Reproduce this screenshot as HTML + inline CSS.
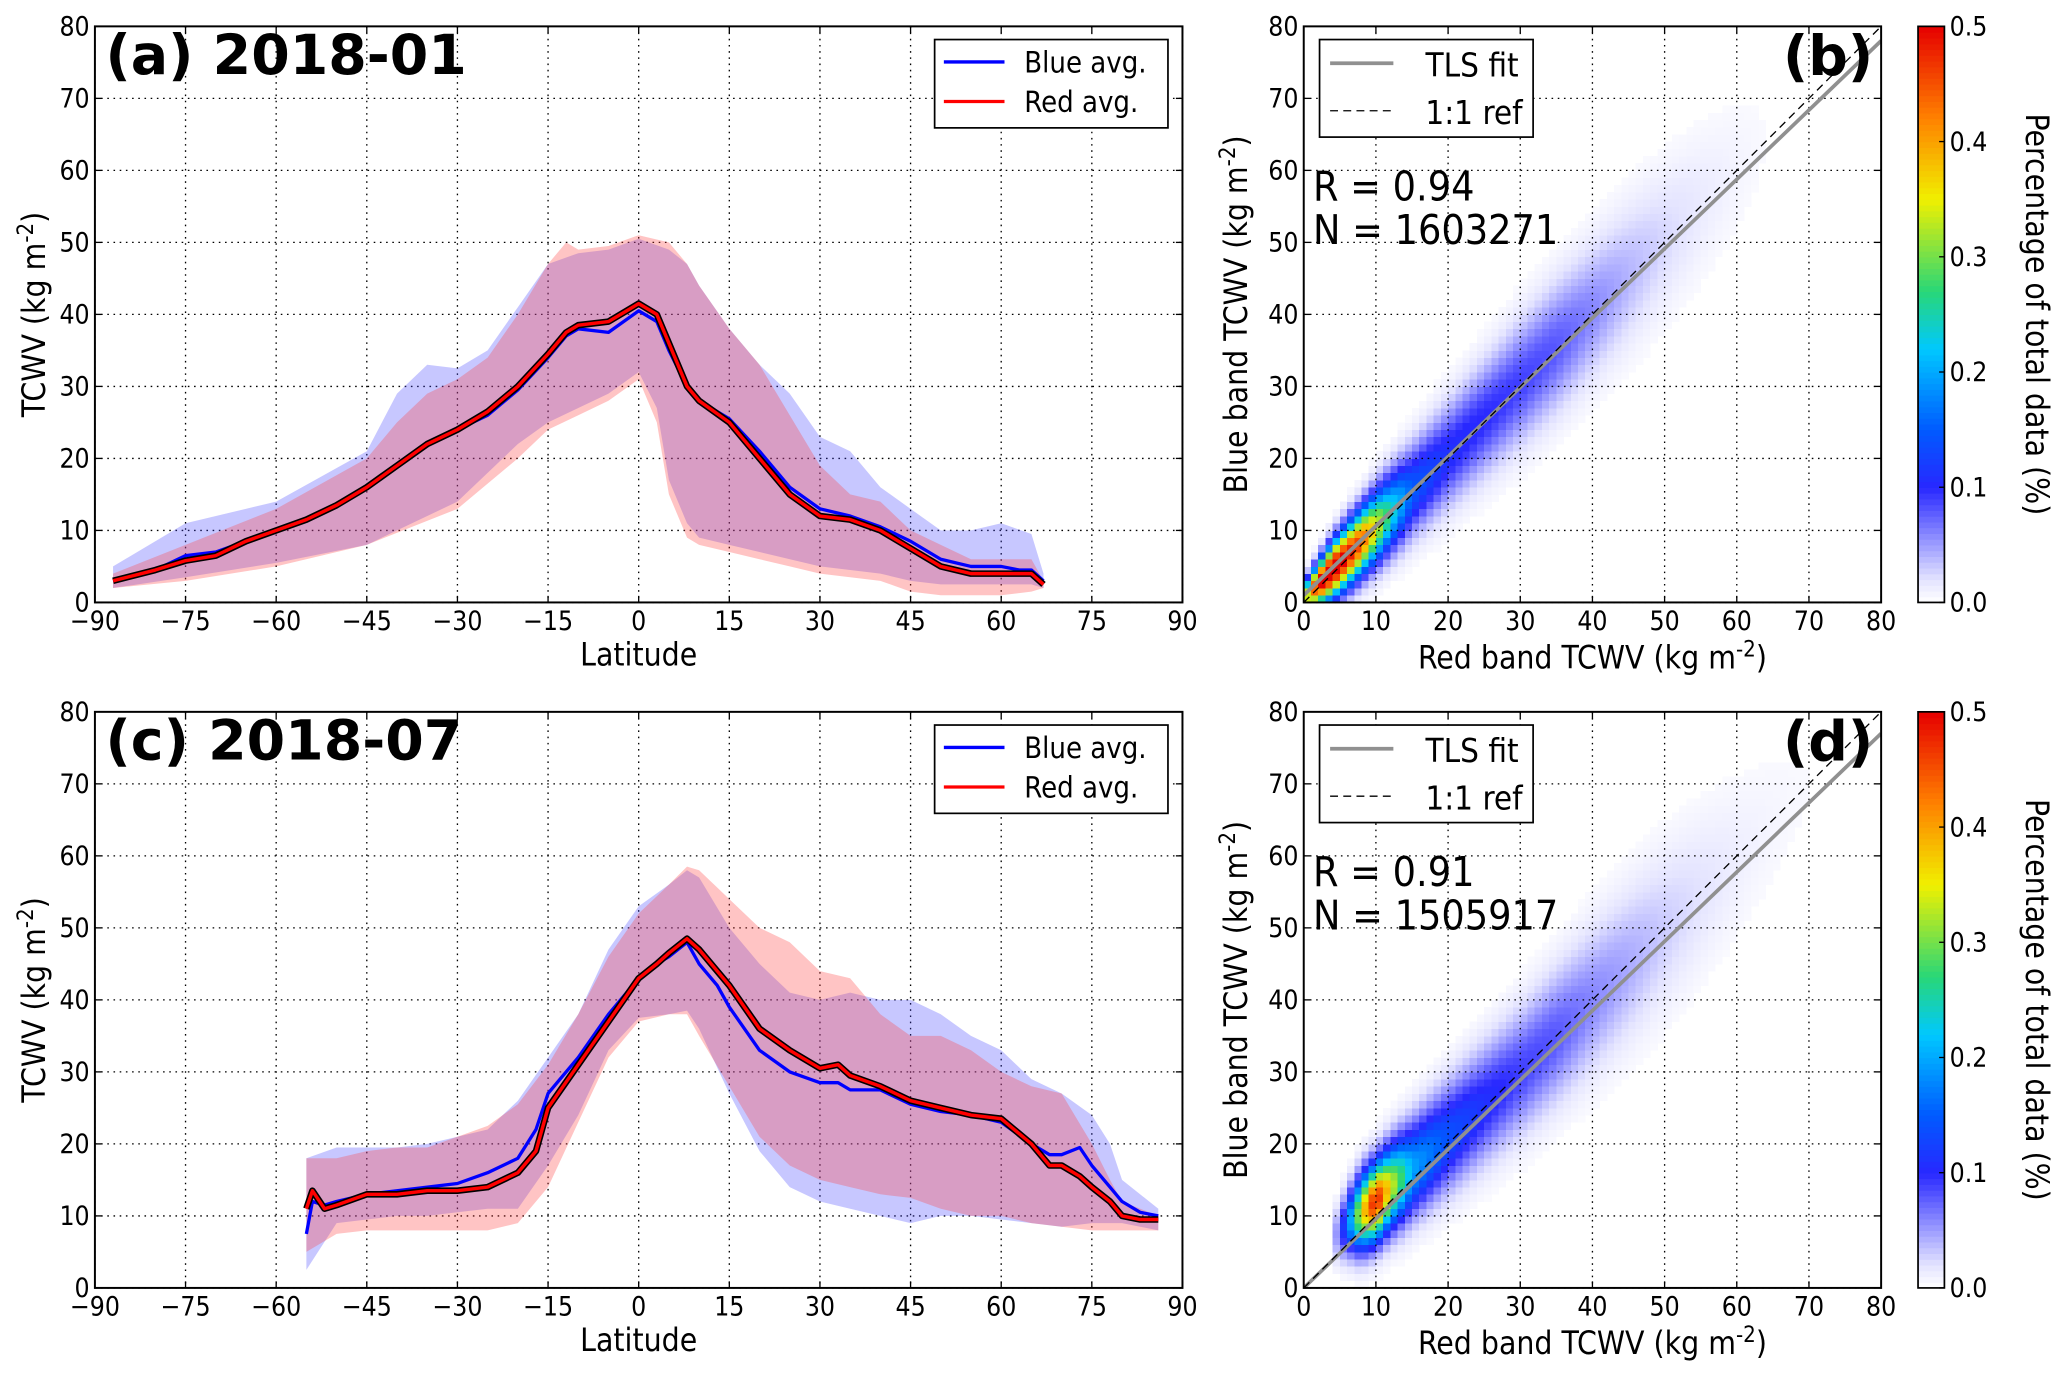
<!DOCTYPE html>
<html><head><meta charset="utf-8">
<style>
html,body{margin:0;padding:0;background:#fff;}
svg{display:block;font-family:"DejaVu Sans","Liberation Sans",sans-serif;font-stretch:condensed;}
</style></head>
<body>
<svg id="fig" width="2067" height="1379" viewBox="0 0 2067 1379" xmlns="http://www.w3.org/2000/svg">
<g id="root" transform="scale(1.31824)"></g>
</svg>
<script>
// ---------- Panel (a) 2018-01 data ----------
const aLat      = [-87,-80,-75,-70,-65,-60,-55,-50,-45,-40,-35,-30,-25,-20,-15,-12,-10,-5,0,3,5,8,10,15,20,25,30,35,40,45,50,55,60,63,65,67];
const aRedAvg   = [3,4.5,5.8,6.5,8.5,10,11.5,13.5,16,19,22,24,26.5,30,34.5,37.5,38.5,39,41.5,40,36,30,28,25,20,15,12,11.5,10,7.5,5,4,4,4,4,2.5];
const aBlueAvg  = [3,4.5,6.5,7,8.5,10,11.5,13.5,16,19,22,24,26,29.5,34,37,38,37.5,40.5,39,35,30,28,25.5,21,16,13,12,10.5,8.5,6,5,5,4.5,4.5,3];
const aRedLat   = [-87,-75,-60,-45,-40,-35,-30,-25,-20,-15,-12,-10,-5,0,5,8,10,15,20,25,30,35,40,45,50,55,60,65,67];
const aRedUp    = [4,8,13,20,25,29,31,34,40,47,50,49,49.5,51,50,47,44,38,33,26,19,15,14,10,8,6,6,6,3];
const aRedLoLat = [-87,-75,-60,-45,-30,-20,-15,-10,-5,0,3,5,8,10,15,20,25,30,40,45,50,60,65,67];
const aRedLo    = [2,3,5,8,13,20,24,26,28,31,25,15,9,8,7,6,5,4,3,1.5,1,1,1.5,2];
const aBlueLat  = [-87,-75,-60,-45,-40,-35,-30,-25,-20,-15,-10,-5,0,5,8,10,15,20,25,30,35,40,45,50,55,60,65,67];
const aBlueUp   = [5,11,14,21,29,33,32.5,35,41,47,48.5,49,50.5,49,47,44,38,33,29,23,21,16,13,10,10,11,9.5,4];
const aBlueLoLat= [-87,-75,-60,-45,-30,-20,-15,-10,-5,0,3,5,8,10,15,20,30,40,45,50,60,65,67];
const aBlueLo   = [2,3.5,5.5,8,14,22,25,27,29,32,27,17,11,9,8,7,5,4,3,2.5,2.5,2.5,2];
// ---------- Panel (c) 2018-07 data ----------
const cLat      = [-55,-54,-52,-50,-45,-40,-35,-30,-25,-20,-17,-15,-10,-5,0,3,5,8,10,13,15,20,25,30,33,35,40,45,50,55,60,65,68,70,73,75,78,80,83,86];
const cRedAvg   = [11,13.5,11,11.5,13,13,13.5,13.5,14,16,19,25,31,37,43,45,46.5,48.5,47,44,42,36,33,30.5,31,29.5,28,26,25,24,23.5,20,17,17,15.5,14,12,10,9.5,9.5];
const cBlueAvg  = [7.5,12,11.5,12,13,13.5,14,14.5,16,18,22,27,32,38,43,45,46,48,45,42,39,33,30,28.5,28.5,27.5,27.5,25.5,24.5,24,23,20,18.5,18.5,19.5,17,14,12,10.5,10];
const cBandLat  = [-55,-50,-45,-40,-35,-30,-25,-20,-15,-10,-5,0,5,8,10,15,20,25,30,35,40,45,50,55,60,65,70,75,78,80,86];
const cRedUp    = [18,18,19,19.5,19.5,21,22.5,25.5,31,38,46,52,56,58.5,58,54,50,48,44,43,38,35,35,33,30,28,27,20,15,12,10];
const cRedLo    = [5,7.5,8,8,8,8,8,9,14,23,32,37,38,38,35,28,21,17,15,14,13,12.5,11,10,10,9,8.5,8,8,8,8];
const cBlueUp   = [18,19.5,19.5,19.5,20,21,22,26,32,38,47,53,56,58,57,50,45,41,40,41,40,40,38,35,33,29,27,24,20,15,11];
const cBlueLo   = [2.5,9,9.5,10,10,10.5,11,11,17,24,33,37.5,38,38.5,36,27,19,14,12,11,10,9,10,10,9.5,9,8.5,9,9,9,8];
// ---------- Panel (b) density (per red-band bin) ----------
const bX      = [0,2,4,6,8,10,12,15,20,25,30,35,40,45,50,55,60,65,70];
const bPeak   = [0.3,0.5,0.55,0.5,0.45,0.35,0.25,0.15,0.11,0.1,0.09,0.08,0.06,0.04,0.025,0.015,0.008,0.003,0];
const bWidth  = [1.5,2,2.5,2.8,3,3.3,3.6,4,4.6,5,5.5,5.8,6,6.5,6.8,7,7,7,7];
const bOffset = [0.5,0.5,0.5,0.5,0.5,0.5,0.5,0.5,0.5,0.5,0.5,0.5,0.5,0.5,0.5,0.5,0.5,0.5,0.5];
const bFit    = [1, 78];
const bStats  = ["R = 0.94","N = 1603271"];
// ---------- Panel (d) density ----------
const dX      = [4,6,8,10,12,15,20,25,30,35,40,45,50,55,60,65,70,75];
const dPeak   = [0.02,0.15,0.35,0.5,0.35,0.2,0.14,0.11,0.09,0.08,0.06,0.045,0.03,0.02,0.012,0.007,0.004,0];
const dWidth  = [2.5,3,3.5,3.5,3.8,4.3,4.8,5.2,5.6,6,6.5,7,7.5,7.5,7.5,7.5,7.5,7.5];
const dOffset = [3,3,2.5,2,2,1.5,1,0.5,0,0,0,0,0,0,0,0,0,0];
const dFit    = [0, 77];
const dStats  = ["R = 0.91","N = 1505917"];
// ticks
const latTicks = [-90,-75,-60,-45,-30,-15,0,15,30,45,60,75,90];
const yTicks   = [0,10,20,30,40,50,60,70,80];
const cbTicks  = ["0.0","0.1","0.2","0.3","0.4","0.5"];

const NS="http://www.w3.org/2000/svg";
const root=document.getElementById('root');
function mk(tag,attrs,parent){const e=document.createElementNS(NS,tag);for(const k in attrs)e.setAttribute(k,attrs[k]);(parent||root).appendChild(e);return e;}
function txt(s,attrs,parent){const e=mk('text',attrs,parent);e.textContent=s;return e;}

const cmapStops=[[0,[255,255,255]],[0.02,[228,228,255]],[0.1,[40,40,255]],[0.15,[0,90,255]],[0.22,[0,200,255]],[0.27,[40,215,120]],[0.35,[240,240,0]],[0.42,[255,130,0]],[0.5,[230,0,0]]];
function cmap(v){v=Math.max(0,Math.min(0.5,v));for(let i=1;i<cmapStops.length;i++){if(v<=cmapStops[i][0]){const a=cmapStops[i-1],b=cmapStops[i];const t=(v-a[0])/(b[0]-a[0]);const c=a[1].map((x,k)=>Math.round(x+(b[1][k]-x)*t));return `rgb(${c[0]},${c[1]},${c[2]})`;}}return 'rgb(230,0,0)';}
function lerpArr(xs,ys,x){if(x<=xs[0])return ys[0];for(let i=1;i<xs.length;i++){if(x<=xs[i]){const t=(x-xs[i-1])/(xs[i]-xs[i-1]);return ys[i-1]+(ys[i]-ys[i-1])*t;}}return ys[ys.length-1];}

function frame(x0,x1,y0,y1,xs,xv,ys,yv,name){
  const g=mk('g',{});
  
  
  xv.forEach((v,i)=>{const X=xs(v);mk('line',{x1:X,x2:X,y1:y0,y2:y1,stroke:'#000','stroke-width':1,'stroke-dasharray':'1.2,3.5'},g);
    mk('line',{x1:X,x2:X,y1:y1,y2:y1-5,stroke:'#000','stroke-width':1},g);mk('line',{x1:X,x2:X,y1:y0,y2:y0+5,stroke:'#000','stroke-width':1},g);});
  yv.forEach((v,i)=>{const Y=ys(v);mk('line',{x1:x0,x2:x1,y1:Y,y2:Y,stroke:'#000','stroke-width':1,'stroke-dasharray':'1.2,3.5'},g);
    mk('line',{x1:x0,x2:x0+5,y1:Y,y2:Y,stroke:'#000','stroke-width':1},g);mk('line',{x1:x1,x2:x1-5,y1:Y,y2:Y,stroke:'#000','stroke-width':1},g);});
}
function border(x0,x1,y0,y1,name){const r=mk('rect',{x:x0,y:y0,width:x1-x0,height:y1-y0,fill:'none',stroke:'#000','stroke-width':1.5});
  }
function ticklabels(x0,x1,y0,y1,xs,xv,ys,yv,name){
  const g=mk('g',{'font-size':20,fill:'#000'});
  
  
  xv.forEach(v=>{const s=v<0?'\u2212'+(-v):String(v);txt(s,{x:xs(v),y:y1+21,'text-anchor':'middle'},g);});
  yv.forEach(v=>{txt(String(v),{x:x0-4,y:ys(v)+7,'text-anchor':'end'},g);});
}
function sup(parentText,base,exp,after){const t1=mk('tspan',{},parentText);t1.textContent=base;const t2=mk('tspan',{dy:-9,'font-size':'70%'},parentText);t2.textContent=exp;const t3=mk('tspan',{dy:9},parentText);t3.textContent=after;}

// ---------- latitude panels ----------
function latPanel(y0,y1,lat,redAvg,blueAvg,rLat,rUp,rLoLat,rLo,bLat,bUp,bLoLat,bLo,title,name){
  const x0=72,x1=897;
  const xs=v=>x0+(v+90)/180*(x1-x0);
  const ys=v=>y1-v/80*(y1-y0);
  const clip=mk('clipPath',{id:'clip-'+name});mk('rect',{x:x0,y:y0,width:x1-x0,height:y1-y0},clip);
  frame(x0,x1,y0,y1,xs,latTicks,ys,yTicks,name);
  const band=(la,up,laL,lo)=>{let p=la.map((l,i)=>xs(l)+','+ys(up[i]));for(let i=laL.length-1;i>=0;i--)p.push(xs(laL[i])+','+ys(lo[i]));return p.join(' ');};
  const bf=mk('polygon',{points:band(bLat,bUp,bLoLat,bLo),fill:'rgba(70,70,255,0.30)','clip-path':`url(#clip-${name})`});
  
  const rf=mk('polygon',{points:band(rLat,rUp,rLoLat,rLo),fill:'rgba(255,60,60,0.30)','clip-path':`url(#clip-${name})`});
  
  const bl=mk('polyline',{points:lat.map((l,i)=>xs(l)+','+ys(blueAvg[i])).join(' '),fill:'none',stroke:'#0000ff','stroke-width':2.5,'stroke-linejoin':'round'});
  
  const pts=lat.map((l,i)=>xs(l)+','+ys(redAvg[i])).join(' ');
  const ro=mk('polyline',{points:pts,fill:'none',stroke:'#000','stroke-width':5,'stroke-linejoin':'round'});
  
  const rl=mk('polyline',{points:pts,fill:'none',stroke:'#ff0000','stroke-width':2.6,'stroke-linejoin':'round'});
  
  border(x0,x1,y0,y1,name);
  ticklabels(x0,x1,y0,y1,xs,latTicks,ys,yTicks,name);
  const t=txt(title,{x:x0+8,y:y0+36,'font-size':42,'font-weight':'bold','font-stretch':'normal'});
  
  const xl=txt('Latitude',{x:(x0+x1)/2,y:y1+48,'font-size':24,'text-anchor':'middle'});
  
  const yl=mk('text',{x:0,y:0,'font-size':24,'text-anchor':'middle',transform:`translate(34,${(y0+y1)/2}) rotate(-90)`});
  sup(yl,'TCWV (kg m','-2',')');
  
  const lg=mk('g',{});
  
  mk('rect',{x:709,y:y0+10,width:177,height:67,fill:'#fff',stroke:'#000','stroke-width':1.3},lg);
  mk('line',{x1:716,x2:762,y1:y0+27,y2:y0+27,stroke:'#0000ff','stroke-width':2.5},lg);
  const e1=txt('Blue avg.',{x:777,y:y0+35,'font-size':22},lg);
  
  mk('line',{x1:716,x2:762,y1:y0+57,y2:y0+57,stroke:'#ff0000','stroke-width':2.5},lg);
  const e2=txt('Red avg.',{x:777,y:y0+65,'font-size':22},lg);
  
}
latPanel(20,457,aLat,aRedAvg,aBlueAvg,aRedLat,aRedUp,aRedLoLat,aRedLo,aBlueLat,aBlueUp,aBlueLoLat,aBlueLo,'(a) 2018-01','panel-a');
latPanel(540,977,cLat,cRedAvg,cBlueAvg,cBandLat,cRedUp,cBandLat,cRedLo,cBandLat,cBlueUp,cBandLat,cBlueLo,'(c) 2018-07','panel-c');

// ---------- scatter density panels ----------
const sTicks=[0,10,20,30,40,50,60,70,80];
function densPanel(y0,y1,X,peak,width,offset,fit,stats,label,name){
  const x0=989,x1=1427;
  const xs=v=>x0+v/80*(x1-x0);
  const ys=v=>y1-v/80*(y1-y0);
  const cw=(x1-x0)/80, ch=(y1-y0)/80;
  const hg=mk('g',{'shape-rendering':'crispEdges'});
  
  for(let i=0;i<80;i++){
    const xc=i+0.5;
    if(xc<X[0]||xc>X[X.length-1])continue;
    const p=lerpArr(X,peak,xc),w=lerpArr(X,width,xc),o=lerpArr(X,offset,xc);
    for(let j=0;j<80;j++){
      const yc=j+0.5;const d=yc-(xc+o);
      const v=p*Math.exp(-d*d/(2*w*w));
      if(v<0.004)continue;
      const r=mk('rect',{x:xs(i),y:ys(j+1),width:cw+0.3,height:ch+0.3,fill:cmap(v)},hg);
      
      
    }
  }
  frame(x0,x1,y0,y1,xs,sTicks,ys,sTicks,name);
  const clip=mk('clipPath',{id:'clip-'+name});mk('rect',{x:x0,y:y0,width:x1-x0,height:y1-y0},clip);
  const f=mk('line',{x1:xs(0),y1:ys(fit[0]),x2:xs(80),y2:ys(fit[1]),stroke:'#909090','stroke-width':2.8,'clip-path':`url(#clip-${name})`});
  
  const r1=mk('line',{x1:xs(0),y1:ys(0),x2:xs(80),y2:ys(80),stroke:'#000','stroke-width':1,'stroke-dasharray':'6,4'});
  
  border(x0,x1,y0,y1,name);
  ticklabels(x0,x1,y0,y1,xs,sTicks,ys,sTicks,name);
  const lg=mk('g',{});
  
  mk('rect',{x:1001,y:y0+10,width:162,height:74,fill:'#fff',stroke:'#000','stroke-width':1.3},lg);
  mk('line',{x1:1009,x2:1057,y1:y0+28,y2:y0+28,stroke:'#909090','stroke-width':2.8},lg);
  txt('TLS fit',{x:1152,y:y0+38,'font-size':25,'text-anchor':'end'},lg);
  mk('line',{x1:1009,x2:1057,y1:y0+64,y2:y0+64,stroke:'#000','stroke-width':1,'stroke-dasharray':'6,4'},lg);
  txt('1:1 ref',{x:1155,y:y0+74,'font-size':25,'text-anchor':'end'},lg);
  const st=mk('g',{'font-size':31});
  
  txt(stats[0],{x:996,y:y0+132},st);txt(stats[1],{x:996,y:y0+165},st);
  const pl=txt(label,{x:1421,y:y0+37,'font-size':42,'font-weight':'bold','text-anchor':'end','font-stretch':'normal'});
  
  const xl=mk('text',{x:(x0+x1)/2,y:y1+50,'font-size':24,'text-anchor':'middle'});
  sup(xl,'Red band TCWV (kg m','-2',')');
  
  const yl=mk('text',{x:0,y:0,'font-size':24,'text-anchor':'middle',transform:`translate(946,${(y0+y1)/2}) rotate(-90)`});
  sup(yl,'Blue band TCWV (kg m','-2',')');
  
  const cb=mk('g',{});
  
  const n=100;
  for(let k=0;k<n;k++){const v=(k+0.5)/n*0.5;mk('rect',{x:1455,y:y1-(k+1)*(y1-y0)/n,width:20,height:(y1-y0)/n+0.5,fill:cmap(v)},cb);}
  mk('rect',{x:1455,y:y0,width:20,height:y1-y0,fill:'none',stroke:'#000','stroke-width':1.3},cb);
  cbTicks.forEach((s,k)=>{const Y=y1-k/5*(y1-y0);mk('line',{x1:1471,x2:1475,y1:Y,y2:Y,stroke:'#000'},cb);txt(s,{x:1479,y:Y+7,'font-size':20},cb);});
  const cl=txt('Percentage of total data (%)',{x:0,y:0,'font-size':24,'text-anchor':'middle',transform:`translate(1537,${(y0+y1)/2}) rotate(90)`});
  
}
densPanel(20,457,bX,bPeak,bWidth,bOffset,bFit,bStats,'(b)','panel-b');
densPanel(540,977,dX,dPeak,dWidth,dOffset,dFit,dStats,'(d)','panel-d');
</script>
</body></html>
